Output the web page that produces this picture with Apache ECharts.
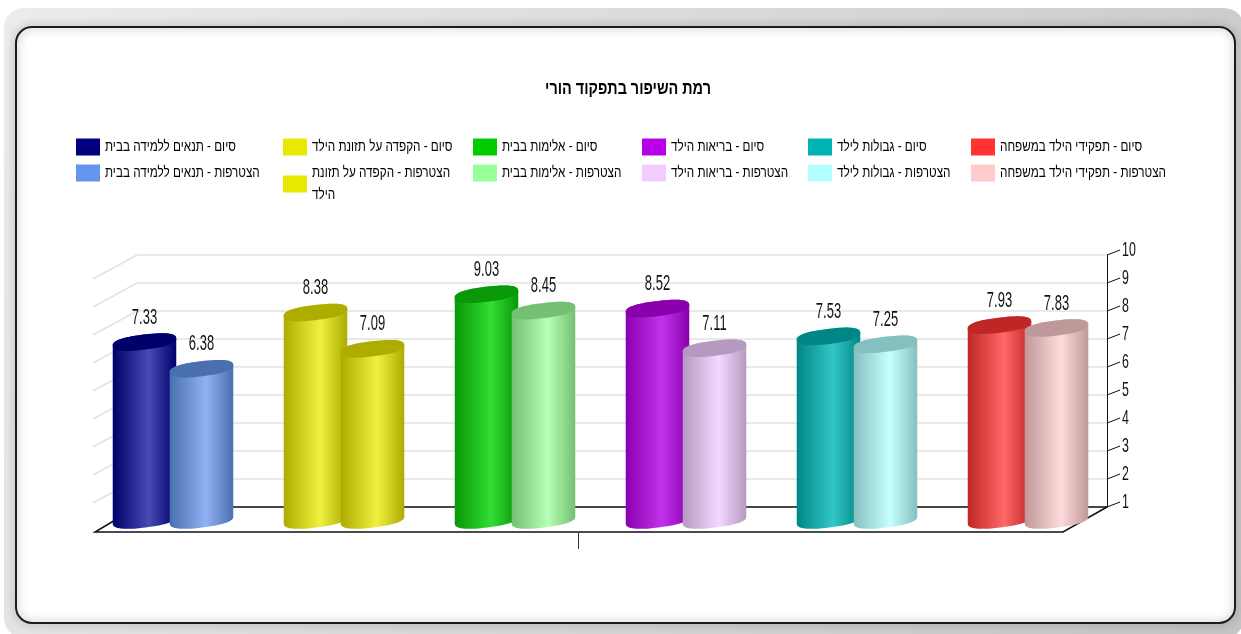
<!DOCTYPE html>
<html><head><meta charset="utf-8">
<style>html,body{margin:0;padding:0;background:#fff}#c{width:1241px;height:634px}</style>
<script src="https://cdn.jsdelivr.net/npm/echarts@6/dist/echarts.min.js"></script></head>
<body><div id="c"></div>
<script>
const titleText = 'רמת השיפור בתפקוד הורי';
const categories = ['תנאים ללמידה בבית','הקפדה על תזונת הילד','אלימות בבית','בריאות הילד','גבולות לילד','תפקידי הילד במשפחה'];
const stages = ['סיום','הצטרפות'];
const finishValues = [7.33,8.38,9.03,8.52,7.53,7.93];
const joinValues = [6.38,7.09,8.45,7.11,7.25,7.83];
const yTicks = [1,2,3,4,5,6,7,8,9,10];
const swatchFinish = ['#000080','#E8E800','#00CC00','#B800E6','#00B3B3','#FF3333'];
const swatchJoin = ['#6495ED','#E8E800','#99FF99','#F2CCFF','#B3FFFF','#FFCCCC'];
const edgeFinish = ['#00006A','#ADAD00','#089808','#8A00AD','#008686','#BF2626'];
const edgeJoin = ['#4A6FB0','#ADAD00','#73BF73','#B599BF','#86BFBF','#BF9999'];
const midFinish = ['#4A4AB4','#F0F040','#33DD33','#C033EB','#33C6C6','#FF6868'];
const midJoin = ['#90B2F2','#F0F040','#B6FFB6','#F5D8FF','#C6FFFF','#FFDADA'];
const legendLeft = [76,283,473,642,808,971];

const family = '"Liberation Sans",Arial,sans-serif';
const TILT = 7*Math.PI/180, A = 32, B = 7.5, OFFSET = 28.5, ROUND = .8;
const pow=(v)=>Math.sign(v)*Math.pow(Math.abs(v),ROUND);
function arc(cx,cy,t0,t1,n){
  const p=[];
  for(let k=0;k<=n;k++){
    const t=t0+(t1-t0)*k/n, c=pow(Math.cos(t)), s=pow(Math.sin(t));
    p.push([cx+A*c*Math.cos(TILT)+B*s*Math.sin(TILT),
            cy-A*c*Math.sin(TILT)+B*s*Math.cos(TILT)]);
  }
  return p;
}
function barSeries(name,stageIdx,i,value,swatch,edge,mid){
  const side = stageIdx===0?-OFFSET:OFFSET;
  return {
    name, type:'custom', xAxisIndex:0, yAxisIndex:0, silent:true,
    itemStyle:{color:swatch},
    data:[[i,value]],
    encode:{x:0,y:1},
    renderItem(params,api){
      const top=api.coord([api.value(0),api.value(1)]);
      const base=api.coord([api.value(0),1]);
      const cx=top[0]+side;
      const body=arc(cx,base[1],Math.PI,0,32).concat(arc(cx,top[1],0,-Math.PI,32));
      const grad=new echarts.graphic.LinearGradient(0,0,1,0,[
        {offset:0,color:edge},{offset:.57,color:mid},{offset:1,color:edge}]);
      const lx=cx, ly=top[1]-24.5;
      return {type:'group',children:[
        {type:'polygon',shape:{points:body},style:{fill:grad}},
        {type:'polygon',shape:{points:arc(cx,top[1],0,2*Math.PI,64)},style:{fill:edge}},
        {type:'text',style:{text:value.toFixed(2),x:lx,y:ly,align:'center',verticalAlign:'middle',
          font:'22px '+family,fill:'#111'},scaleX:.59,originX:lx,originY:ly}
      ]};
    }
  };
}
const names=[[],[]];
const bars=[];
categories.forEach((c,i)=>{
  const a=stages[0]+' - '+c, b=stages[1]+' - '+c;
  names[0].push(a);names[1].push(b);
  bars.push(barSeries(a,0,i,finishValues[i],swatchFinish[i],edgeFinish[i],midFinish[i]));
  bars.push(barSeries(b,1,i,joinValues[i],swatchJoin[i],edgeJoin[i],midJoin[i]));
});
const frame={
  type:'custom',xAxisIndex:1,yAxisIndex:1,silent:true,z:1,
  data:yTicks.map(v=>[0,v]),encode:{x:0,y:1},
  renderItem(params,api){
    const p=api.coord([0,api.value(1)]);
    const r=api.coord([1,api.value(1)]);
    const isBase=api.value(1)===yTicks[0];
    const ch=[];
    if(isBase){
      ch.push({type:'line',shape:{x1:p[0],y1:p[1],x2:r[0],y2:r[1]},style:{stroke:'#111',lineWidth:1.5}});
      ch.push({type:'polyline',shape:{points:[[p[0],p[1]],[p[0]-42,p[1]+25],[r[0]-44,r[1]+25],[r[0],r[1]]]},style:{fill:null,stroke:'#111',lineWidth:1.5}});
    } else {
      ch.push({type:'line',shape:{x1:p[0],y1:p[1],x2:p[0]-44,y2:p[1]+24},style:{stroke:'#e2e2e2',lineWidth:1.5}});
    }
    ch.push({type:'line',shape:{x1:r[0],y1:r[1],x2:r[0]+13,y2:r[1]-5},style:{stroke:'#111',lineWidth:1}});
    return {type:'group',children:ch};
  }
};
const legends=categories.map((c,i)=>({
  left:legendLeft[i],top:136,orient:'vertical',itemWidth:24,itemHeight:17,itemGap:4,
  selectedMode:false,padding:0,icon:'rect',
  data:[names[0][i],names[1][i]],
  formatter:n=>n===names[1][1]?n.replace('תזונת הילד','תזונת\nהילד'):n,
  textStyle:{fontFamily:family,fontSize:15,color:'#000',lineHeight:22}
}));
const chart=echarts.init(document.getElementById('c'),null,{renderer:'canvas'});
chart.setOption({
  animation:false,
  backgroundColor:'#fff',
  title:{text:titleText,left:623,top:75,textAlign:'center',
    textStyle:{fontFamily:family,fontSize:18,fontWeight:'bold',color:'#000'}},
  legend:legends,
  grid:[
    {left:87.5,width:1026,top:267,height:253},
    {left:137,width:970,top:255,height:252}
  ],
  xAxis:[
    {type:'category',gridIndex:0,data:categories,show:false},
    {type:'value',gridIndex:1,min:0,max:1,show:false}
  ],
  yAxis:[
    {type:'value',gridIndex:0,min:1,max:10,interval:1,show:false},
    {type:'value',gridIndex:1,min:1,max:10,interval:1,position:'right',
      axisLine:{show:true,onZero:false,lineStyle:{color:'#111',width:1}},axisTick:{show:false},
      axisLabel:{margin:15,fontFamily:family,fontSize:21,color:'#111'},
      splitLine:{show:true,lineStyle:{color:'#e2e2e2',width:1.5}}}
  ],
  graphic:[
    {type:'rect',z:-10,shape:{x:4,y:8,width:1240,height:630,r:20},silent:true,
      style:{fill:new echarts.graphic.LinearGradient(0,0,1,1,[{offset:0,color:'#ececec'},{offset:1,color:'#c4c4c4'}])}},
    {type:'rect',z:-9,shape:{x:16,y:27,width:1219,height:596,r:16},silent:true,style:{fill:'#fff'}},
    {type:'rect',z:-8,shape:{x:16,y:27,width:1219,height:596,r:16},silent:true,
      style:{fill:null,stroke:'#1c1c1c',lineWidth:2,shadowBlur:8,shadowColor:'rgba(0,0,0,.45)'}},
    {type:'line',z:2,shape:{x1:578.5,y1:533,x2:578.5,y2:549},silent:true,style:{stroke:'#333',lineWidth:1}}
  ],
  series:[frame].concat(bars)
});
// The reference's type is horizontally condensed; no narrow Hebrew face is installed, so squeeze the library's own text.
const tickTexts=new Set(yTicks.map(String));
const legendTexts=new Set(names[0].concat(names[1]));
chart.getZr().storage.getRoots().forEach(root=>{
  const visit=el=>{
    if(el.isGroup||!el.style||typeof el.style.text!=='string')return;
    const s=el.style.text;
    let f=0;
    if(s===titleText)f=.8;
    else if(legendTexts.has(s)||s.indexOf('\n')>=0)f=.78;
    else if(tickTexts.has(s)){f=.59;el.y-=5;}
    if(f){el.scaleX=f;el.originX=el.style.x||0;el.markRedraw();}
  };
  if(root.traverse)root.traverse(visit);else visit(root);
});
chart.getZr().refreshImmediately();
</script></body></html>
